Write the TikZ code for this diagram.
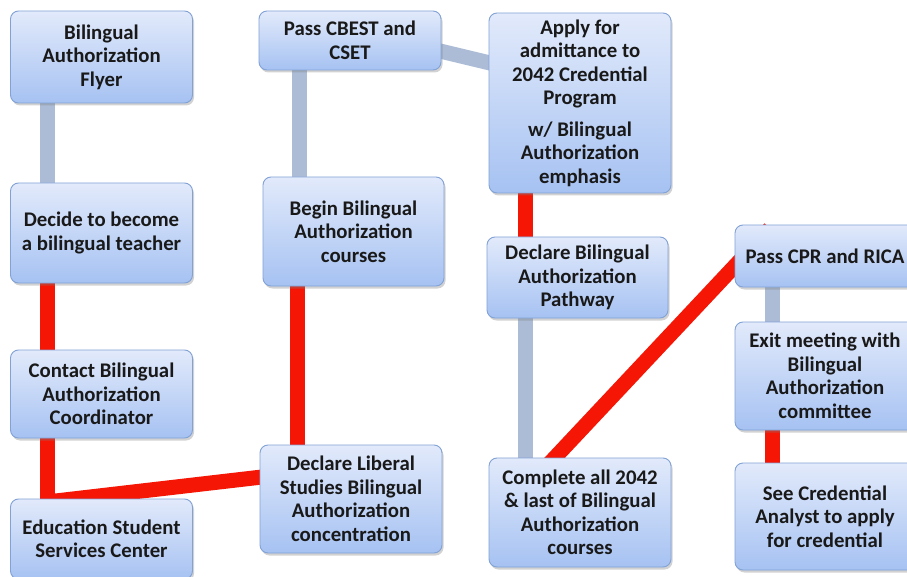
\documentclass[tikz,border=0pt]{standalone}
\usepackage{fontspec}
\setmainfont{Carlito}
\usetikzlibrary{shadows,backgrounds}
\definecolor{redline}{RGB}{245,22,5}
\definecolor{grayline}{RGB}{172,188,214}
\definecolor{boxtop}{RGB}{226,234,251}
\definecolor{boxbot}{RGB}{166,194,242}
\definecolor{boxedge}{RGB}{130,162,214}
\begin{document}
\begin{tikzpicture}[x=1pt,y=-1pt,
  box/.style={draw=boxedge, line width=0.9pt, rounded corners=8pt,
    top color=boxtop, bottom color=boxbot,
    drop shadow={shadow xshift=1.5pt, shadow yshift=-2.5pt, opacity=0.35},
    align=center, font=\bfseries\fontsize{20.8}{23.5}\selectfont,
    inner sep=0pt, text=black!90},
  redc/.style={draw=redline, line width=15pt},
  grayc/.style={draw=grayline, line width=15pt}]
\path[use as bounding box, clip] (0,0) rectangle (907,577);
% nodes
\node[box, minimum width=182pt, minimum height=92pt] (flyer) at (101.5,57) {Bilingual\\Authorization\\Flyer};
\node[box, minimum width=182pt, minimum height=100pt] (decide) at (101.5,233) {Decide to become\\a bilingual teacher};
\node[box, minimum width=182pt, minimum height=88pt] (contact) at (101.5,394) {Contact Bilingual\\Authorization\\Coordinator};
\node[box, minimum width=182pt, minimum height=80pt] (edu) at (101.5,539) {Education Student\\Services Center};
\node[box, minimum width=182pt, minimum height=59pt] (cbest) at (350,40.5) {Pass CBEST and\\CSET};
\node[box, minimum width=181pt, minimum height=109pt] (begin) at (353.5,231.5) {Begin Bilingual\\Authorization\\courses};
\node[box, minimum width=182pt, minimum height=108pt] (liberal) at (351,499) {Declare Liberal\\Studies Bilingual\\Authorization\\concentration};
\node[box, minimum width=182pt, minimum height=180pt] (apply) at (580,103) {Apply for\\admittance to\\2042 Credential\\Program\\[8pt]w/ Bilingual\\Authorization\\emphasis};
\node[box, minimum width=181pt, minimum height=81pt] (pathway) at (577.5,277.5) {Declare Bilingual\\Authorization\\Pathway};
\node[box, minimum width=182pt, minimum height=109pt] (complete) at (580,512.5) {Complete all 2042\\\& last of Bilingual\\Authorization\\courses};
\node[box, minimum width=180pt, minimum height=62pt] (cpr) at (825,256) {Pass CPR and RICA};
\node[box, minimum width=180pt, minimum height=108pt] (exit) at (825,376) {Exit meeting with\\Bilingual\\Authorization\\committee};
\node[box, minimum width=180pt, minimum height=107pt] (see) at (825,516.5) {See Credential\\Analyst to apply\\for credential};
% connectors (behind boxes)
\begin{pgfonlayer}{background}
\fill[white] (0,0) rectangle (907,577);
\draw[grayc] ([shift={(-54.5,0)}]flyer.center) -- ([shift={(-54.5,0)}]decide.center);
\draw[redc] ([shift={(-54.5,0)}]decide.center) -- ([shift={(-54.5,0)}]contact.center);
\draw[redc] ([shift={(-54.5,0)}]contact.center) -- ([shift={(-54.5,0)}]edu.center);
\draw[redc] ([shift={(-54.5,-37)}]edu.center) -- ([shift={(-89,-22)}]liberal.center);
\draw[redc] ([shift={(-54,0)}]liberal.center) -- ([shift={(-56.5,0)}]begin.center);
\draw[grayc] ([shift={(-54.5,0)}]begin.center) -- ([shift={(-51,0)}]cbest.center);
\draw[grayc] ([shift={(80,8.1)}]cbest.center) -- ([shift={(-80,-37.6)}]apply.center);
\draw[redc] ([shift={(-55,0)}]apply.center) -- ([shift={(-52.5,0)}]pathway.center);
\draw[grayc] ([shift={(-52.5,0)}]pathway.center) -- ([shift={(-55,0)}]complete.center);
\draw[redc] ([shift={(-33,-46.5)}]complete.center) -- ([shift={(-55,-27.5)}]cpr.center);
\draw[grayc] ([shift={(-53,0)}]cpr.center) -- ([shift={(-53,0)}]exit.center);
\draw[redc] ([shift={(-53,0)}]exit.center) -- ([shift={(-53,0)}]see.center);
\end{pgfonlayer}
\end{tikzpicture}
\end{document}
